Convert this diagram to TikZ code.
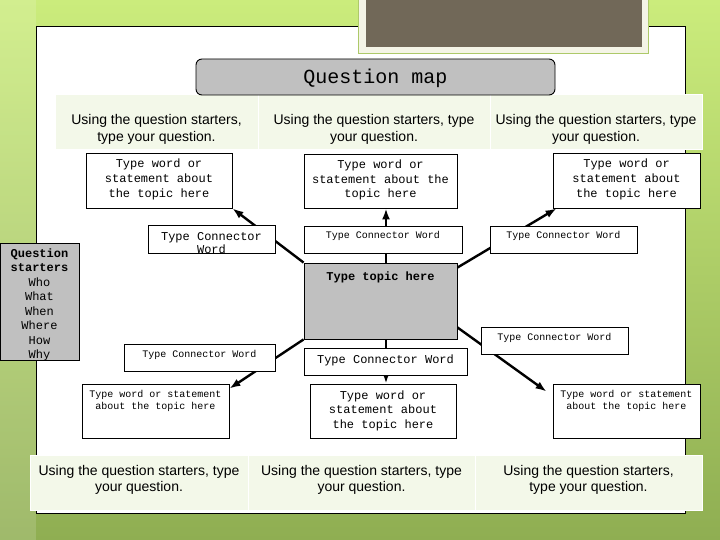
\documentclass[tikz,border=0pt]{standalone}
\usepackage{fontspec}
\setmainfont{Liberation Sans}
\setmonofont{Liberation Mono}
\usetikzlibrary{arrows.meta}

\definecolor{bgtop}{HTML}{CBEC7C}
\definecolor{bgbot}{HTML}{8FAE52}
\definecolor{cellgreen}{HTML}{F3F8E9}
\definecolor{boxgray}{HTML}{C0C0C0}
\definecolor{slate}{HTML}{716858}
\definecolor{framecol}{HTML}{F4F4E6}

\pgfdeclarelayer{back}
\pgfdeclarelayer{wires}
\pgfsetlayers{back,wires,main}

% box text: width, height, first baseline, text
\newcommand{\inbox}[4]{\parbox[c][#2pt][t]{#1pt}{\centering\rule{0pt}{#3pt}#4}}
\newcommand{\monoA}{\fontsize{12}{14.5}\selectfont\ttfamily}
\newcommand{\monoB}{\fontsize{10}{12.5}\selectfont\ttfamily}
\newcommand{\sansA}{\fontsize{14}{16.5}\selectfont}

\begin{document}
\begin{tikzpicture}[x=1pt,y=-1pt,
  box/.style={draw,fill=white,line width=.9pt,inner sep=0pt},
  graybox/.style={box,fill=boxgray},
  cell/.style={draw=white,line width=1pt,fill=cellgreen,inner sep=0pt},
  wire/.style={line width=2.4pt},
  arr/.style={wire,-{Latex[length=11pt,width=8pt]}}]
\useasboundingbox (0,0) rectangle (720,540);

\begin{pgfonlayer}{back}
\shade[top color=bgtop,bottom color=bgbot] (0,0) rectangle (720,540);
\fill[white,opacity=.15] (0,0) rectangle (36,540);
\draw[fill=white,line width=.9pt] (36,26) rectangle (685,513);
\draw[draw=black!15!bgtop,fill=framecol] (358,-2) rectangle (648,53);
\fill[slate] (366,-2) rectangle (642,47);
\end{pgfonlayer}

% title and question cells
\node[cell] (qt1) at (156.5,122.5) {\inbox{203}{55}{30}{\sansA Using the question starters,\\type your question.}};
\node[cell] (qt2) at (374,122.5) {\inbox{232}{55}{30}{\sansA Using the question starters, type\\your question.}};
\node[cell] (qt3) at (596,122.5) {\inbox{212}{55}{30}{\sansA Using the question starters, type\\your question.}};
\node[graybox,rounded corners=6pt] (title) at (375.5,77) {\inbox{359}{36}{25}{\fontsize{20}{24}\selectfont\ttfamily Question map}};
\node[cell] (qb1) at (139,482.5) {\inbox{218}{55}{20}{\sansA Using the question starters, type\\your question.}};
\node[cell] (qb2) at (361.5,482.5) {\inbox{227}{55}{20}{\sansA Using the question starters, type\\your question.}};
\node[cell] (qb3) at (588.5,482.5) {\inbox{227}{55}{20}{\sansA Using the question starters,\\type your question.}};

% question starters
\node[graybox] (qs) at (39.5,301.5) {\inbox{79}{117}{14}{\fontsize{12}{14.5}\selectfont\ttfamily\textbf{Question}\\\textbf{starters}\\Who\\What\\When\\Where\\How\\Why}};

% topic
\node[graybox] (topic) at (380.5,301) {\inbox{153}{76}{17}{\monoA\textbf{Type topic here}}};

% word boxes
\node[box] (wtl) at (159,180.5) {\inbox{146}{55}{15}{\monoA Type word or\\statement about\\the topic here}};
\node[box] (wtm) at (380.5,181) {\inbox{153}{54}{15}{\monoA Type word or\\statement about the\\topic here}};
\node[box] (wtr) at (626.5,180.5) {\inbox{147}{55}{15}{\monoA Type word or\\statement about\\the topic here}};
\node[box] (wbl) at (155.5,411) {\inbox{147}{54}{13}{\monoB Type word or statement\\about the topic here}};
\node[box] (wbm) at (383,411) {\inbox{146}{54}{15}{\monoA Type word or\\statement about\\the topic here}};
\node[box] (wbr) at (626.5,411) {\inbox{147}{54}{13}{\monoB Type word or statement\\about the topic here}};

% connector words
\node[box] (ctl) at (211.5,239) {\inbox{127}{28}{15}{\monoA\fontsize{12}{13}\selectfont Type Connector\\Word}};
\node[box] (ctm) at (383,239.5) {\inbox{158}{27}{12}{\monoB Type Connector Word}};
\node[box] (ctr) at (563.5,239.5) {\inbox{147}{27}{12}{\monoB Type Connector Word}};
\node[box] (cbl) at (199.5,357.5) {\inbox{151}{27}{13}{\monoB Type Connector Word}};
\node[box] (cbm) at (385.5,361.5) {\inbox{163}{27}{15}{\monoA Type Connector Word}};
\node[box] (cbr) at (554.5,340.5) {\inbox{147}{27}{13}{\monoB Type Connector Word}};

\begin{pgfonlayer}{wires}
\draw[arr] (topic.north west) -- (wtl.south east);
\draw[arr] ([xshift=5.5pt]topic.north) -- ([xshift=5.5pt]topic.north |- wtm.south);
\draw[arr] ([yshift=-5pt]topic.north east) -- ([xshift=4pt]wtr.south west);
\draw[arr] (topic.south west) -- ([yshift=-5pt]wbl.north east);
\draw[arr] ([xshift=5.5pt]topic.south) -- ([xshift=5.5pt]topic.south |- wbm.north);
\draw[arr] ([yshift=12pt]topic.south east) -- ([xshift=-6pt,yshift=-8pt]wbr.north west);
\end{pgfonlayer}
\end{tikzpicture}
\end{document}
